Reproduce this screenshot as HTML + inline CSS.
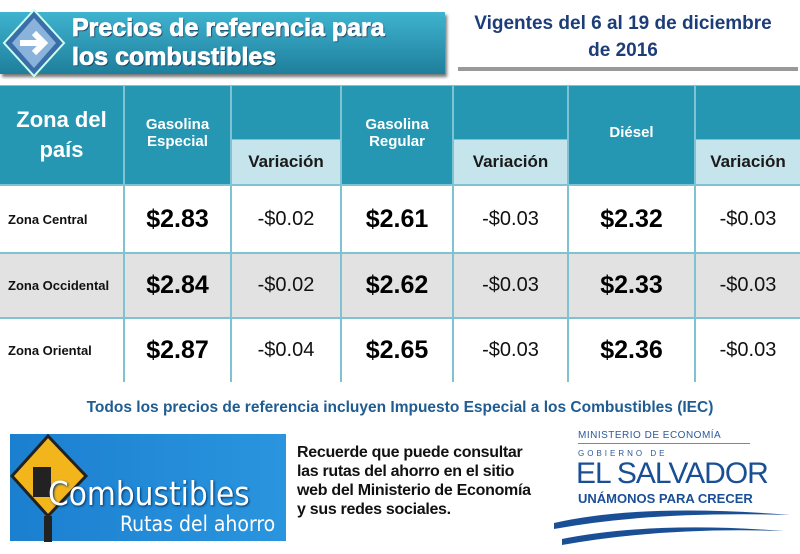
<!DOCTYPE html>
<html><head><meta charset="utf-8"><style>
*{margin:0;padding:0;box-sizing:border-box}
body{width:800px;height:554px;background:#fff;position:relative;overflow:hidden;font-family:"Liberation Sans",sans-serif}
.a{position:absolute}
.c{position:absolute;display:flex;align-items:center;justify-content:center;text-align:center}
.hd{background:#2697b2;color:#fff;font-weight:bold}
.lt{background:#c5e4ec;color:#1a1a1a;font-weight:bold;font-size:17px}
.z{justify-content:flex-start;padding-left:8px;font-weight:bold;font-size:13px;color:#111}
.p{font-weight:bold;font-size:25px;color:#000}
.v{font-size:20px;color:#111}
</style></head><body>
<div class="a" style="left:0;top:12px;width:445px;height:62px;background:linear-gradient(#3fb3cf,#1e7f9c);box-shadow:2px 3px 3px #777"></div>
<svg class="a" style="left:2px;top:8px" width="64" height="70"><polygon points="32,2 62,35 32,68 2,35" fill="#3a6ea8" stroke="#cfe" stroke-width="2"/><polygon points="32,10 54,35 32,60 10,35" fill="#8ab3db"/><path d="M18 35h22M32 25l10 10-10 10" stroke="#fff" stroke-width="6" fill="none"/></svg>
<div class="a" style="left:72px;top:14px;color:#fff;font-weight:bold;font-size:25px;line-height:29px;-webkit-text-stroke:0.8px #fff;text-shadow:1px 1px 1px #124">Precios de referencia para<br>los combustibles</div>
<div class="a" style="left:458px;top:10px;width:330px;text-align:center;color:#1d3d78;font-weight:bold;font-size:19px;line-height:27px">Vigentes del 6 al 19 de diciembre<br>de 2016</div>
<div class="a" style="left:458px;top:67px;width:340px;height:4px;background:#999"></div>
<div class="a" style="left:0;top:85px;width:800px;height:297px;background:#7fc3d3"></div>
<div class="c hd" style="left:0;top:86px;width:123px;height:98px;font-size:22px;line-height:30px">Zona del<br>país</div>
<div class="c hd" style="left:125px;top:86px;width:105px;height:98px;font-size:15px;align-items:flex-start;padding-top:30px">Gasolina<br>Especial</div>
<div class="c hd" style="left:232px;top:86px;width:108px;height:53px"></div>
<div class="c lt" style="left:232px;top:140px;width:108px;height:44px">Variación</div>
<div class="c hd" style="left:342px;top:86px;width:110px;height:98px;font-size:15px;align-items:flex-start;padding-top:30px">Gasolina<br>Regular</div>
<div class="c hd" style="left:454px;top:86px;width:113px;height:53px"></div>
<div class="c lt" style="left:454px;top:140px;width:113px;height:44px">Variación</div>
<div class="c hd" style="left:569px;top:86px;width:125px;height:98px;font-size:15px;padding-bottom:5px">Diésel</div>
<div class="c hd" style="left:696px;top:86px;width:104px;height:53px"></div>
<div class="c lt" style="left:696px;top:140px;width:104px;height:44px">Variación</div>
<div id="r"></div>
<script>
var rows=[["Zona Central","$2.83","-$0.02","$2.61","-$0.03","$2.32","-$0.03",186,66,"#fff"],
["Zona Occidental","$2.84","-$0.02","$2.62","-$0.03","$2.33","-$0.03",254,63,"#e2e2e2"],
["Zona Oriental","$2.87","-$0.04","$2.65","-$0.03","$2.36","-$0.03",319,63,"#fff"]];
var xs=[[0,123],[125,105],[232,108],[342,110],[454,113],[569,125],[696,104]];var h="";
rows.forEach(function(r){for(var i=0;i<7;i++){var cl=i==0?"z":(i%2?"p":"v");
h+='<div class="c '+cl+'" style="left:'+xs[i][0]+'px;top:'+r[7]+'px;width:'+xs[i][1]+'px;height:'+r[8]+'px;background:'+r[9]+'">'+r[i]+'</div>';}});
document.getElementById("r").outerHTML=h;
</script>
<div class="a" style="left:0;top:399px;width:800px;text-align:center;color:#1f5c91;font-weight:bold;font-size:15.5px">Todos los precios de referencia incluyen Impuesto Especial a los Combustibles (IEC)</div>
<div class="a" style="left:10px;top:434px;width:276px;height:107px;background:linear-gradient(90deg,#1b7fd0,#2a95de)"></div>
<svg class="a" style="left:8px;top:432px" width="100" height="110"><polygon points="40,4 78,44 40,84 4,44" fill="#f2b51c" stroke="#222" stroke-width="3"/><rect x="36" y="84" width="8" height="26" fill="#222"/><path d="M25 35h18v30h-18z" fill="#222"/></svg>
<div class="a" style="left:48px;top:474px;color:#fff;font-size:33px;font-family:'DejaVu Sans Condensed','Liberation Sans',sans-serif;text-shadow:1px 1px 2px #036">Combustibles</div>
<div class="a" style="left:120px;top:512px;color:#fff;font-size:21px;font-family:'DejaVu Sans Condensed','Liberation Sans',sans-serif">Rutas del ahorro</div>
<div class="a" style="left:297px;top:443px;color:#111;font-weight:bold;font-size:16px;line-height:19px;letter-spacing:-0.3px">Recuerde que puede consultar<br>las rutas del ahorro en el sitio<br>web del Ministerio de Economía<br>y sus redes sociales.</div>
<div class="a" style="left:578px;top:430px;color:#2a5a9a;font-size:10px;letter-spacing:0.5px">MINISTERIO DE ECONOMÍA</div>
<div class="a" style="left:578px;top:443px;width:172px;height:1px;background:#6a8ab0"></div>
<div class="a" style="left:578px;top:449px;color:#2a5a9a;font-size:8px;letter-spacing:3px">GOBIERNO DE</div>
<div class="a" style="left:576px;top:457px;color:#1a4f96;font-size:30px;letter-spacing:-1px">EL SALVADOR</div>
<div class="a" style="left:578px;top:491px;color:#1a4f96;font-weight:bold;font-size:13px">UNÁMONOS PARA CRECER</div>
<svg class="a" style="left:552px;top:505px" width="240" height="40"><path d="M2 18 Q90 -2 238 10 Q100 6 2 24Z" fill="#1a4f96"/><path d="M10 34 Q100 16 232 26 Q110 22 10 40Z" fill="#1a4f96"/></svg>
</body></html>
